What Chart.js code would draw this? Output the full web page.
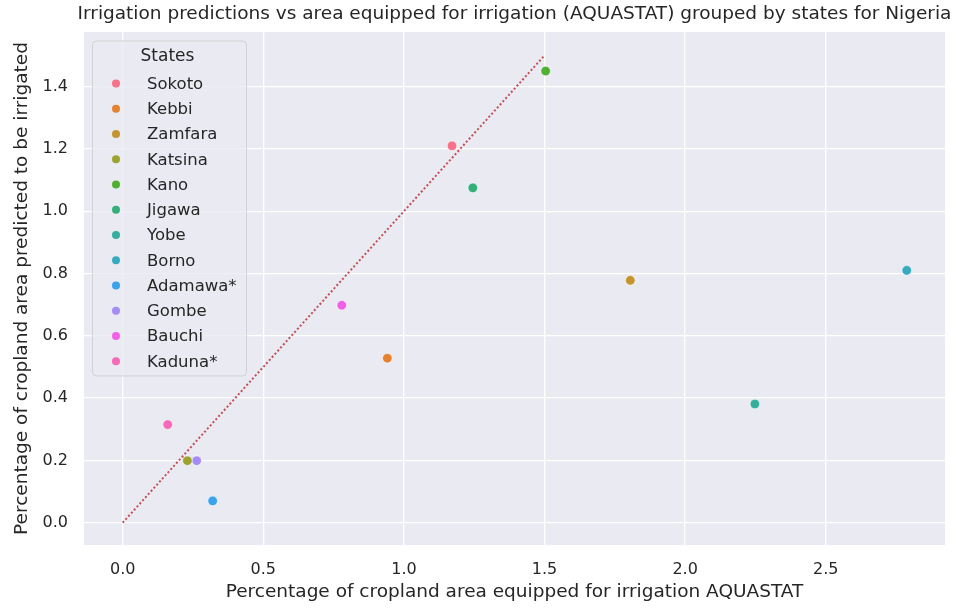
<!DOCTYPE html>
<html><head><meta charset="utf-8">
<script src="https://cdn.jsdelivr.net/npm/chart.js@4.4.0/dist/chart.umd.min.js"></script>
<style>html,body{margin:0;padding:0;background:#fff;}#wrap{width:955px;height:609px;}</style>
</head><body><div id="wrap"><canvas id="c" width="955" height="609"></canvas></div>
<script>
const states = ["Sokoto","Kebbi","Zamfara","Katsina","Kano","Jigawa","Yobe","Borno","Adamawa*","Gombe","Bauchi","Kaduna*"];
const xValues = [1.171, 0.941, 1.805, 0.230, 1.504, 1.245, 2.248, 2.788, 0.320, 0.263, 0.779, 0.160];
const yValues = [1.210, 0.528, 0.778, 0.199, 1.450, 1.075, 0.381, 0.810, 0.070, 0.199, 0.698, 0.315];
const colors = ["#f77189","#e6812f","#c3952f","#9ea22f","#50b131","#33b07a","#35ae9e","#37abbd","#3ba3ec","#a48cf4","#f061e6","#f668b8"];
const refX = [0, 1.5];
const refY = [0, 1.5];
const xTicks = [0, 0.5, 1.0, 1.5, 2.0, 2.5];
const yTicks = [0, 0.2, 0.4, 0.6, 0.8, 1.0, 1.2, 1.4];
const titleText = "Irrigation predictions vs area equipped for irrigation (AQUASTAT) grouped by states for Nigeria";
const xLabel = "Percentage of cropland area equipped for irrigation AQUASTAT";
const yLabel = "Percentage of cropland area predicted to be irrigated";
const legendTitle = "States";

const FONT = "'DejaVu Sans', sans-serif";
const TXT = "#262626";
Chart.defaults.font.family = FONT;
Chart.defaults.color = TXT;

const datasets = states.map((s, i) => ({
  type: 'scatter',
  label: s,
  data: [{x: xValues[i], y: yValues[i]}],
  backgroundColor: colors[i],
  borderColor: '#ffffff',
  borderWidth: 0.6,
  pointRadius: 4.8,
  pointHoverRadius: 4.8,
  order: 0
}));
datasets.push({
  type: 'line',
  label: 'ref',
  data: refX.map((x, i) => ({x: x, y: refY[i]})),
  borderColor: '#c44e52',
  borderWidth: 2,
  borderDash: [2, 2.2],
  pointRadius: 0,
  fill: false,
  order: 1
});

const decor = {
  id: 'decor',
  beforeDraw(chart) {
    const ctx = chart.ctx, a = chart.chartArea;
    ctx.save();
    ctx.fillStyle = '#ffffff';
    ctx.fillRect(0, 0, chart.width, chart.height);
    ctx.fillStyle = '#eaeaf2';
    ctx.fillRect(a.left, a.top, a.right - a.left, a.bottom - a.top);
    ctx.restore();
  },
  afterDraw(chart) {
    const ctx = chart.ctx, a = chart.chartArea;
    ctx.save();
    ctx.fillStyle = TXT;
    ctx.textAlign = 'center';
    ctx.textBaseline = 'middle';
    ctx.font = "18.5px " + FONT;
    ctx.fillText(titleText, (a.left + a.right) / 2, 14);
    ctx.fillText(xLabel, (a.left + a.right) / 2, 592);
    ctx.save();
    ctx.translate(22, (a.top + a.bottom) / 2);
    ctx.rotate(-Math.PI / 2);
    ctx.fillText(yLabel, 0, 0);
    ctx.restore();

    // legend
    const lx = 92.5, ly = 41, lw = 154, lh = 335, r = 4;
    ctx.beginPath();
    ctx.moveTo(lx + r, ly);
    ctx.arcTo(lx + lw, ly, lx + lw, ly + lh, r);
    ctx.arcTo(lx + lw, ly + lh, lx, ly + lh, r);
    ctx.arcTo(lx, ly + lh, lx, ly, r);
    ctx.arcTo(lx, ly, lx + lw, ly, r);
    ctx.closePath();
    ctx.fillStyle = 'rgba(234,234,242,0.8)';
    ctx.fill();
    ctx.strokeStyle = 'rgba(204,204,204,0.8)';
    ctx.lineWidth = 1;
    ctx.stroke();
    ctx.fillStyle = TXT;
    ctx.font = "17px " + FONT;
    ctx.textAlign = 'center';
    ctx.fillText(legendTitle, 167.5, 57);
    ctx.font = "16.5px " + FONT;
    ctx.textAlign = 'left';
    states.forEach((s, i) => {
      const y = 83.5 + i * 25.25;
      ctx.beginPath();
      ctx.arc(116, y, 4, 0, Math.PI * 2);
      ctx.fillStyle = colors[i];
      ctx.fill();
      ctx.fillStyle = TXT;
      ctx.fillText(s, 147, y + 1);
    });
    ctx.restore();
  }
};

new Chart(document.getElementById('c'), {
  data: { datasets: datasets },
  options: {
    responsive: false,
    animation: false,
    devicePixelRatio: 1,
    layout: { padding: { top: 32, right: 10, left: 0, bottom: 0 } },
    plugins: { legend: { display: false }, title: { display: false }, tooltip: { enabled: false } },
    scales: {
      x: {
        type: 'linear',
        min: -0.1376, max: 2.924,
        afterFit(s) { s.height = 64; },
        afterBuildTicks(s) { s.ticks = xTicks.map(v => ({value: v})); },
        ticks: { font: { size: 16 }, color: TXT, padding: 15, callback: v => Number(v).toFixed(1), maxRotation: 0, autoSkip: false },
        grid: { color: '#ffffff', lineWidth: 1.3, drawTicks: false },
        border: { display: false }
      },
      y: {
        type: 'linear',
        min: -0.0716, max: 1.5753,
        afterFit(s) { s.width = 84; },
        afterBuildTicks(s) { s.ticks = yTicks.map(v => ({value: v})); },
        ticks: { font: { size: 16 }, color: TXT, padding: 16, callback: v => Number(v).toFixed(1), autoSkip: false },
        grid: { color: '#ffffff', lineWidth: 1.3, drawTicks: false },
        border: { display: false }
      }
    }
  },
  plugins: [decor]
});
</script>
</body></html>
